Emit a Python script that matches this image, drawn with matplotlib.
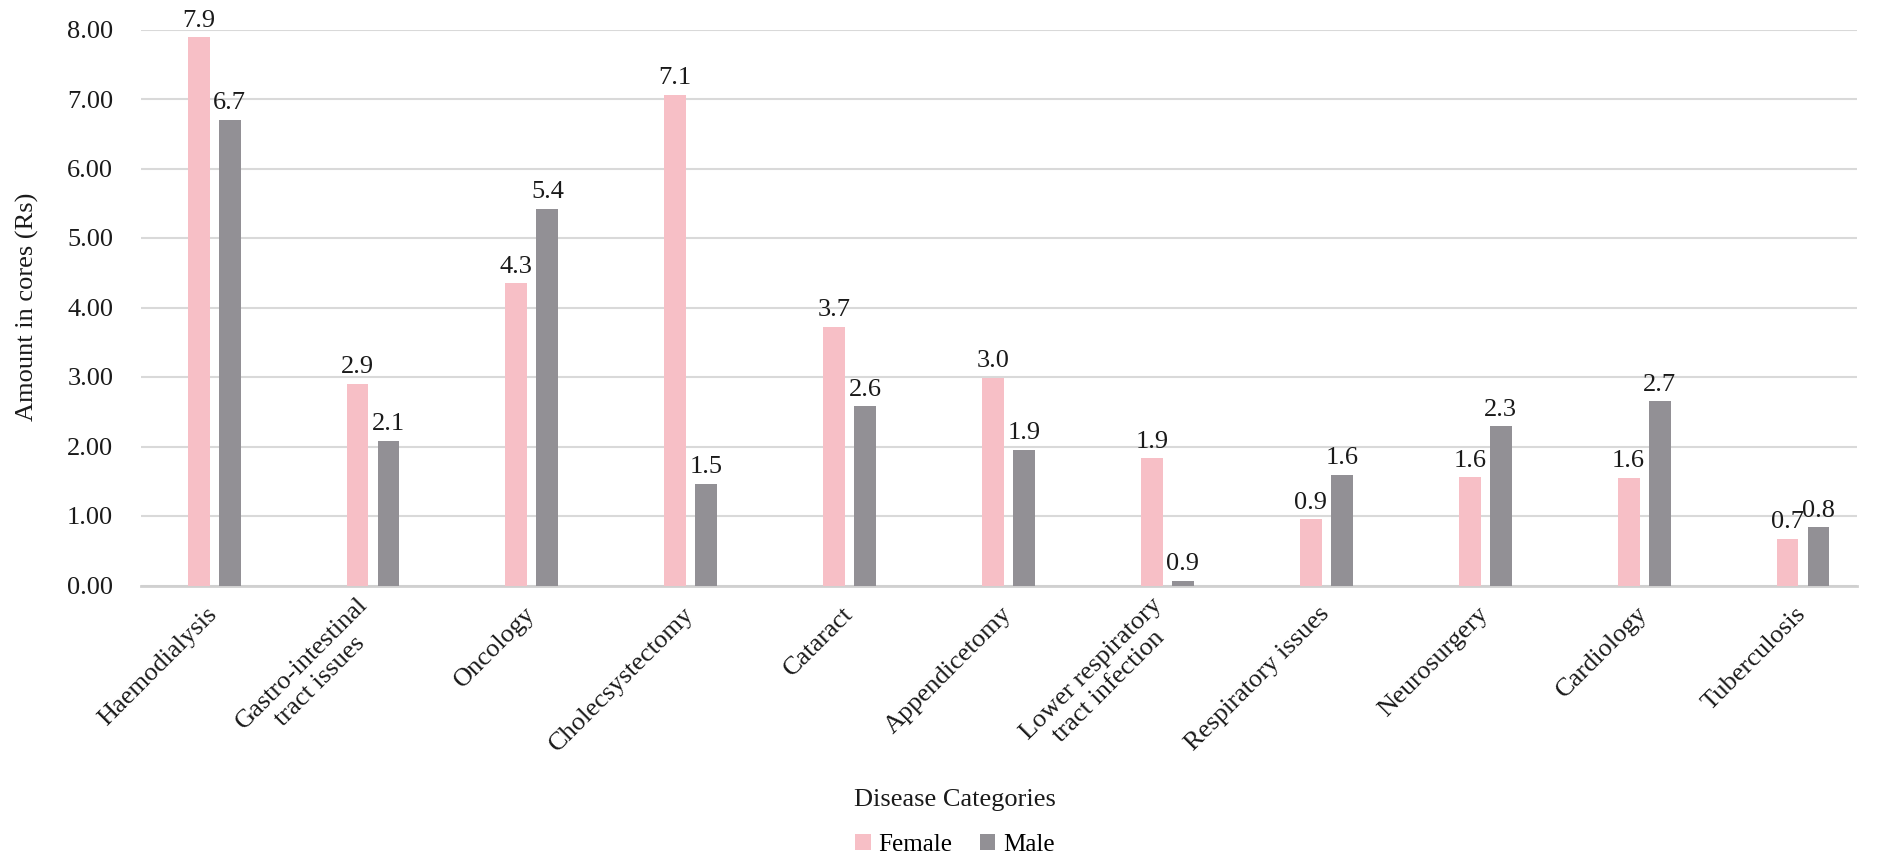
import matplotlib
matplotlib.use("Agg")
import matplotlib.pyplot as plt
import numpy as np

categories = ["Haemodialysis", "Gastro-intestinal\ntract issues", "Oncology",
              "Cholecsystectomy", "Cataract", "Appendicetomy",
              "Lower respiratory\ntract infection", "Respiratory issues",
              "Neurosurgery", "Cardiology", "Tuberculosis"]
female = [7.89, 2.90, 4.35, 7.06, 3.72, 2.99, 1.83, 0.95, 1.56, 1.55, 0.67]
male = [6.70, 2.08, 5.42, 1.46, 2.58, 1.95, 0.07, 1.59, 2.29, 2.65, 0.84]
female_labels = ["7.9", "2.9", "4.3", "7.1", "3.7", "3.0", "1.9", "0.9", "1.6", "1.6", "0.7"]
male_labels = ["6.7", "2.1", "5.4", "1.5", "2.6", "1.9", "0.9", "1.6", "2.3", "2.7", "0.8"]
yticks = [0, 1, 2, 3, 4, 5, 6, 7, 8]

plt.rcParams['font.family'] = ['Liberation Serif', 'DejaVu Serif']
FS = 19

fig = plt.figure(figsize=(18.85, 8.61), dpi=100)
ax = fig.add_axes([141 / 1885, 1 - 585.5 / 861, (1857 - 141) / 1885, (585.5 - 29.5) / 861])

x = np.arange(len(categories))
w = 0.138
off = 0.0975
b1 = ax.bar(x - off, female, width=w, color="#F7BFC6", label="Female", zorder=3)
b2 = ax.bar(x + off, male, width=w, color="#929095", label="Male", zorder=3)

for bars, labs in ((b1, female_labels), (b2, male_labels)):
    for rect, lab in zip(bars, labs):
        ax.annotate(lab, (rect.get_x() + rect.get_width() / 2, rect.get_height()),
                    xytext=(0, 4), textcoords="offset points", ha="center", va="bottom",
                    fontsize=FS, color="#1a1a1a", annotation_clip=False)

ax.set_xlim(-0.46, 10.34)
ax.set_ylim(0, 8)
ax.set_yticks(yticks)
ax.set_yticklabels(["%.2f" % v for v in yticks], fontsize=FS, color="#1a1a1a")
ax.tick_params(axis="y", length=0, pad=20)
ax.set_xticks(x)
ax.set_xticklabels(categories, rotation=45, ha="right", va="center",
                   rotation_mode="anchor", fontsize=FS, color="#1a1a1a",
                   multialignment="center")
ax.tick_params(axis="x", length=0, pad=18)
ax.grid(axis="y", color="#D9D9D9", linewidth=1.5, zorder=0)
for s in ["top", "right", "left"]:
    ax.spines[s].set_visible(False)
ax.spines["bottom"].set_color("#D0D0D0")
ax.spines["bottom"].set_linewidth(2)

fig.text(27 / 1885, 1 - 307 / 861, "Amount in cores (Rs)", rotation=90,
         ha="center", va="center", fontsize=FS, color="#1a1a1a")
fig.text(955 / 1885, 1 - 800 / 861, "Disease Categories", ha="center", va="center",
         fontsize=FS, color="#1a1a1a")
fig.legend(handles=[b1, b2], loc="center", bbox_to_anchor=(955 / 1885, 1 - 845 / 861),
           ncol=2, frameon=False, fontsize=18, handlelength=0.62, handleheight=0.62,
           handletextpad=0.3, columnspacing=1.1, borderpad=0)

fig.savefig("out.png", dpi=100)
